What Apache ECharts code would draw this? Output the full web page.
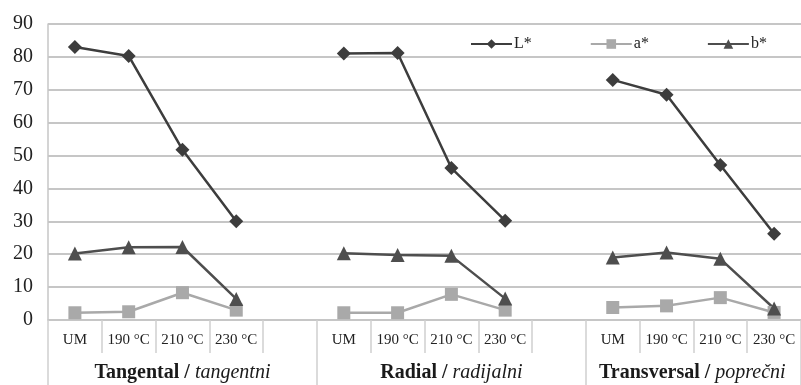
<!DOCTYPE html>
<html><head><meta charset="utf-8">
<script src="https://cdn.jsdelivr.net/npm/echarts@6/dist/echarts.min.js"></script>
<style>html,body{margin:0;padding:0;background:#fff}#c{width:801px;height:385px}</style>
</head><body><div id="c"></div>
<script>
const categories = ['UM','190 °C','210 °C','230 °C','','UM','190 °C','210 °C','230 °C','','UM','190 °C','210 °C','230 °C'];
const groupNames = ['Tangental','Radial','Transversal'];
const groupSub = ['tangentni','radijalni','poprečni'];
const groupLabelIndex = [2,7,12];
const yTicks = [0,10,20,30,40,50,60,70,80,90];
const seriesL = [83,80.3,51.8,30,null,81,81.2,46.2,30.2,null,73,68.5,47.1,26.2];
const seriesA = [2.2,2.5,8.3,3,null,2.2,2.2,7.8,3,null,3.8,4.3,6.8,2.3];
const seriesB = [20.2,22.1,22.2,6.4,null,20.3,19.8,19.5,6.5,null,19,20.5,18.6,3.5];

const chart = echarts.init(document.getElementById('c'));
const font = 'Liberation Serif';
const grid = '#c6c6c6';
chart.setOption({
  animation:false,
  grid:{left:48, top:24, width:756, bottom:65},
  legend:{left:470, top:36, itemWidth:41, itemHeight:12, itemGap:58, padding:0,
    textStyle:{fontFamily:font, fontSize:16, color:'#222', padding:[0,0,0,-3]},
    data:['L*','a*','b*']},
  xAxis:[{
    type:'category', data:categories, boundaryGap:true,
    axisLine:{show:true, lineStyle:{color:grid, width:1.5}},
    axisTick:{show:true, interval:0, length:33, lineStyle:{color:'#d0d0d0', width:1.5}},
    axisLabel:{interval:0, margin:13, fontFamily:font, fontSize:15, color:'#222'}
  },{
    type:'category', data:categories, boundaryGap:true, position:'bottom',
    axisLine:{show:false},
    axisTick:{show:true, length:70, interval:(i)=> i%5===0, lineStyle:{color:'#d0d0d0', width:1.5}},
    axisLabel:{interval:0, margin:43, fontFamily:font, fontSize:20, color:'#1a1a1a',
      formatter:(v,i)=>{
        const g = groupLabelIndex.indexOf(i);
        if(g<0) return '';
        const it = g===2 ? 'ip' : 'i';
        return '{b|'+groupNames[g]+' / }{'+it+'|'+groupSub[g]+'}';
      },
      rich:{
        b:{fontFamily:font, fontSize:20, fontWeight:'bold', color:'#1a1a1a'},
        i:{fontFamily:font, fontSize:20, fontStyle:'italic', color:'#1a1a1a'},
        ip:{fontFamily:font, fontSize:20, fontStyle:'italic', color:'#1a1a1a', padding:[0,56,0,0]}
      }
    }
  }],
  yAxis:{type:'value', min:0, max:90, interval:10,
    axisLine:{show:true, lineStyle:{color:grid, width:1.5}},
    axisTick:{show:false},
    splitLine:{lineStyle:{color:grid, width:2}},
    axisLabel:{margin:15, fontFamily:font, fontSize:20, color:'#222',
      formatter:(v)=> yTicks.includes(v) ? String(v) : ''}
  },
  series:[
    {name:'L*', type:'line', data:seriesL, symbol:'diamond', symbolSize:14, connectNulls:false,
      itemStyle:{color:'#3d3d3d'}, lineStyle:{color:'#3d3d3d', width:2.5}},
    {name:'a*', type:'line', data:seriesA, symbol:'rect', symbolSize:13, connectNulls:false,
      itemStyle:{color:'#a9a9a9'}, lineStyle:{color:'#a9a9a9', width:2.5}},
    {name:'b*', type:'line', data:seriesB, symbol:'triangle', symbolSize:14, connectNulls:false,
      itemStyle:{color:'#4e4e4e'}, lineStyle:{color:'#4e4e4e', width:2.5}}
  ]
});
</script></body></html>
